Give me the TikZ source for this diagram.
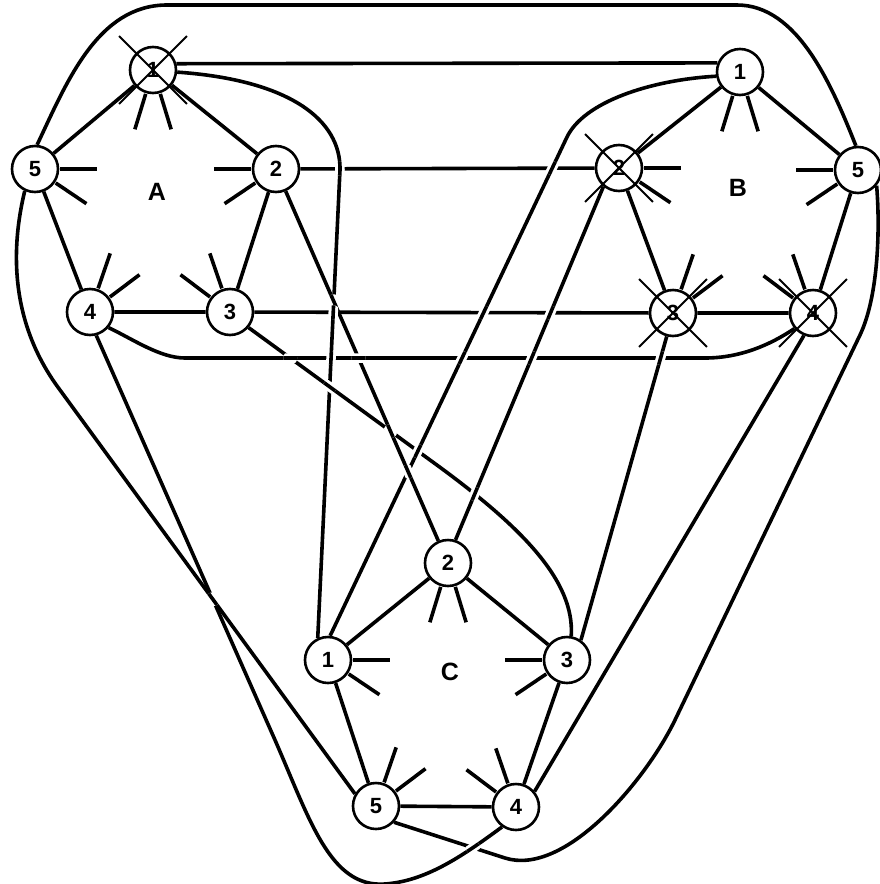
\documentclass[tikz,border=0pt]{standalone}
\usepackage{fontspec}
\setmainfont{Liberation Sans}
\usetikzlibrary{intersections,calc}
\newcommand\bridgeat[3]{%
  \path[name intersections={of=#1 and #2, by=ix}];
  \begin{scope}
    \clip (ix) circle (7);
    \draw[white,line width=9.5pt] #3;
    \draw[edge] #3;
  \end{scope}}
\newcommand\stubpair[3]{%
  \draw[stub] ($(#1)+(#2:25)$) -- ($(#1)+(#2:62)$);
  \draw[stub] ($(#1)+(#3:25)$) -- ($(#1)+(#3:62)$);}
\newcommand\xnode[1]{%
  \draw[xline] ($(#1)+(45:48)$) -- ($(#1)+(225:48)$);
  \draw[xline] ($(#1)+(135:48)$) -- ($(#1)+(315:48)$);}
\begin{document}
\begin{tikzpicture}[x=1pt,y=-1pt,
  vtx/.style={circle,draw,line width=2.6pt,minimum size=46pt,inner sep=0pt,
    font=\fontsize{22}{22}\selectfont\bfseries},
  edge/.style={line width=3.6pt},
  stub/.style={line width=3.6pt},
  xline/.style={line width=1.9pt},
  lbl/.style={font=\fontsize{25}{25}\selectfont\bfseries}]
\clip (0,0) rectangle (880,884);
\fill[white] (0,0) rectangle (880,884);
% nodes
\node[vtx] (A1) at (153,70) {1};
\node[vtx] (A2) at (276,169) {2};
\node[vtx] (A3) at (230,312) {3};
\node[vtx] (A4) at (90,312) {4};
\node[vtx] (A5) at (35,169) {5};
\node[vtx] (B1) at (740,72) {1};
\node[vtx] (B2) at (619,168) {2};
\node[vtx] (B3) at (673,313) {3};
\node[vtx] (B4) at (813,313) {4};
\node[vtx] (B5) at (858,170) {5};
\node[vtx] (C1) at (328,660) {1};
\node[vtx] (C2) at (448,563) {2};
\node[vtx] (C3) at (567,660) {3};
\node[vtx] (C4) at (516,807) {4};
\node[vtx] (C5) at (376,806) {5};
\node[lbl] (LA) at (157,192) {A};
\node[lbl] (LB) at (738,188) {B};
\node[lbl] (LC) at (450,672) {C};
% pentagon edges
\draw[edge] (A1)--(A2) (A2)--(A3) (A3)--(A4) (A4)--(A5) (A5)--(A1);
\draw[edge] (B1)--(B2) (B2)--(B3) (B3)--(B4) (B4)--(B5) (B5)--(B1);
\draw[edge] (C2)--(C1) (C2)--(C3) (C3)--(C4) (C4)--(C5) (C5)--(C1);
% connector paths
\def\pAoneBone{(A1.15) -- (B1.158)}
\def\pAoneCone{(A1.-5) .. controls (290,80) and (341,120) .. (340,170) -- (C1.115)}
\def\pAtwoBtwo{(A2) -- (B2)}
\def\pAtwoCtwo{(A2) -- (C2)}
\def\pAthreeBthree{(A3) -- (B3)}
\def\pAthreeCthree{(A3.-40) -- (430,460) .. controls (520,525) and (575,580) .. (C3.80)}
\def\pAfourBfour{(A4.-40) .. controls (132.6,339) and (160,358) .. (185,358) -- (705,358) .. controls (740,358) and (770,345) .. (B4.-140)}
\def\pAfourCfour{(A4.-75) -- (275,740) .. controls (310,820) and (330,888) .. (385,884) .. controls (425,881) and (460,858) .. (C4.-125)}
\def\pAfiveBfive{(A5.85) .. controls (66,84) and (97,5) .. (167,5) -- (737,5) .. controls (797,5) and (831,83) .. (B5.95)}
\def\pAfiveCfive{(A5.-115) .. controls (8,260) and (15,330) .. (60,390) -- (C5.150)}
\def\pBoneCone{(B1.190) .. controls (650,80) and (584,102) .. (567,137) -- (C1.85)}
\def\pBtwoCtwo{(B2.-130) -- (C2.72)}
\def\pBthreeCthree{(B3.-105) -- (C3.55)}
\def\pBfourCfour{(B4.-112) -- (C4.40)}
\def\pBfiveCfive{(B5.-40) .. controls (880,225) and (879,295) .. (860,335) -- (675,720) .. controls (646,780) and (565,877) .. (505,858) -- (C5.-42)}
\draw[edge,name path=A1B1] \pAoneBone;
\draw[edge,name path=A1C1] \pAoneCone;
\draw[edge,name path=A2B2] \pAtwoBtwo;
\draw[edge,name path=A2C2] \pAtwoCtwo;
\draw[edge,name path=A3B3] \pAthreeBthree;
\draw[edge,name path=A3C3] \pAthreeCthree;
\draw[edge,name path=A4B4] \pAfourBfour;
\draw[edge,name path=A4C4] \pAfourCfour;
\draw[edge,name path=A5B5] \pAfiveBfive;
\draw[edge,name path=A5C5] \pAfiveCfive;
\draw[edge,name path=B1C1] \pBoneCone;
\draw[edge,name path=B2C2] \pBtwoCtwo;
\draw[edge,name path=B3C3] \pBthreeCthree;
\draw[edge,name path=B4C4] \pBfourCfour;
\draw[edge,name path=B5C5] \pBfiveCfive;
% crossings: under, over, over-path
\bridgeat{A2B2}{A1C1}{\pAoneCone}
\bridgeat{A2B2}{B1C1}{\pBoneCone}
\bridgeat{A1C1}{A2C2}{\pAtwoCtwo}
\bridgeat{A3B3}{A1C1}{\pAoneCone}
\bridgeat{A3B3}{B1C1}{\pBoneCone}
\bridgeat{A3B3}{B2C2}{\pBtwoCtwo}
\bridgeat{A4B4}{A1C1}{\pAoneCone}
\bridgeat{A2C2}{A4B4}{\pAfourBfour}
\bridgeat{A3C3}{A4B4}{\pAfourBfour}
\bridgeat{A4B4}{B1C1}{\pBoneCone}
\bridgeat{A4B4}{B2C2}{\pBtwoCtwo}
\bridgeat{A4B4}{B3C3}{\pBthreeCthree}
\bridgeat{A1C1}{A3C3}{\pAthreeCthree}
\bridgeat{A3C3}{A2C2}{\pAtwoCtwo}
\bridgeat{A3C3}{B1C1}{\pBoneCone}
\bridgeat{A3C3}{B2C2}{\pBtwoCtwo}
\bridgeat{B1C1}{A2C2}{\pAtwoCtwo}
\bridgeat{A4C4}{A5C5}{\pAfiveCfive}
\bridgeat{B5C5}{A4C4}{\pAfourCfour}
% stubs
\stubpair{A1}{73}{107}
\stubpair{B1}{73}{107}
\stubpair{C2}{73}{107}
\stubpair{A5}{0}{34}
\stubpair{B2}{0}{34}
\stubpair{C1}{0}{34}
\stubpair{A2}{180}{146}
\stubpair{B5}{180}{146}
\stubpair{C3}{180}{146}
\stubpair{A3}{217}{251}
\stubpair{B4}{217}{251}
\stubpair{C4}{217}{251}
\stubpair{A4}{289}{323}
\stubpair{B3}{289}{323}
\stubpair{C5}{289}{323}
% crossed-out nodes
\xnode{A1}
\xnode{B2}
\xnode{B3}
\xnode{B4}
\end{tikzpicture}
\end{document}
